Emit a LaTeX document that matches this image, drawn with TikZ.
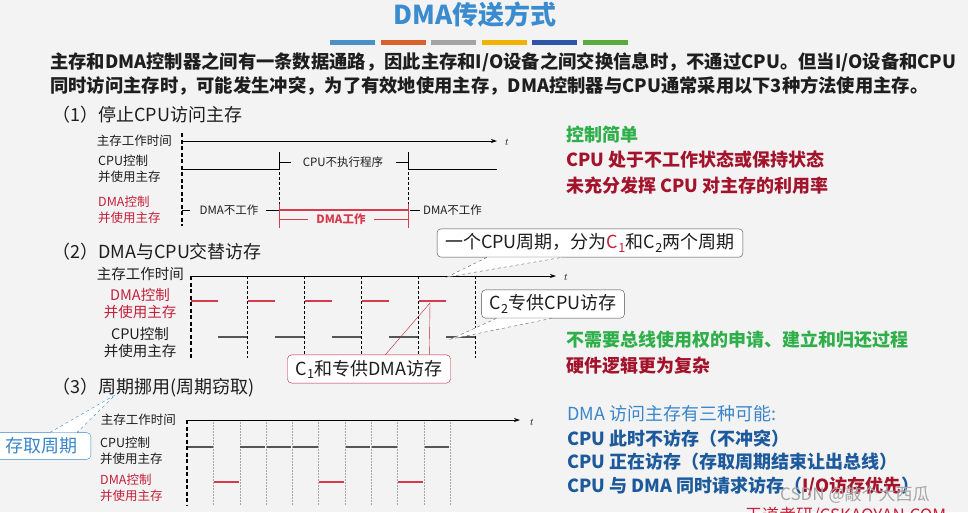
\documentclass[tikz,border=0pt]{standalone}
\usepackage{fontspec}
\setmainfont{Noto Sans CJK SC}
\usetikzlibrary{arrows.meta}

\definecolor{bgcol}{HTML}{F3F3F3}
\definecolor{titleblue}{HTML}{3B8CCF}
\definecolor{txtcol}{HTML}{1E1E1E}
\definecolor{okgreen}{HTML}{2EAF4A}
\definecolor{badred}{HTML}{A3142C}
\definecolor{lblred}{HTML}{C4203A}
\definecolor{dmared}{HTML}{D63A4C}
\definecolor{cpugray}{HTML}{555555}
\definecolor{infoblue}{HTML}{3A86C8}
\definecolor{deepblue}{HTML}{1C5A9C}
\definecolor{barA}{HTML}{4A90C8}
\definecolor{barB}{HTML}{D9622B}
\definecolor{barC}{HTML}{A3A3A3}
\definecolor{barD}{HTML}{F0B400}
\definecolor{barE}{HTML}{2E56A8}
\definecolor{barF}{HTML}{5BAA3C}

\begin{document}
\begin{tikzpicture}[x=1pt,y=-1pt,
    line/.style={anchor=west,inner sep=0pt,text=txtcol,font=\bfseries\fontsize{18.3}{22}\selectfont},
    head/.style={anchor=west,inner sep=0pt,text=txtcol,font=\fontsize{18}{20}\selectfont},
    lbl/.style={inner sep=0pt,text=txtcol,font=\fontsize{12.5}{16.5}\selectfont},
    tiny/.style={inner sep=0pt,text=txtcol,font=\fontsize{11.5}{13}\selectfont},
    note/.style={anchor=west,inner sep=0pt,font=\bfseries\fontsize{18}{20}\selectfont},
    axis/.style={thick,-{Stealth[length=6pt,width=4pt]}},
    zero/.style={very thick,dash pattern=on 4pt off 2.5pt},
    slot/.style={thin,dash pattern=on 3pt off 2pt},
    fine/.style={gray!70,very thin,dash pattern=on 1.5pt off 1.5pt},
    cpuseg/.style={cpugray,line width=2pt},
    dmaseg/.style={dmared,line width=2pt},
    callout/.style={draw=gray!60!black,fill=white,rounded corners=4pt,inner xsep=8pt,inner ysep=5pt,text=txtcol,font=\fontsize{18}{20}\selectfont}]

  \useasboundingbox (0,0) rectangle (968,512);
  \clip (0,0) rectangle (968,512);
  \fill[bgcol] (0,0) rectangle (968,512);

  % TITRE
  \node[font=\bfseries\fontsize{26}{28}\selectfont,text=titleblue] (title) at (475,15) {DMA传送方式};
  \foreach \c [count=\i from 0] in {barA,barB,barC,barD,barE,barF}
    \fill[\c] ({330+50.6*\i},40) rectangle +(45,5);

  % INTRO
  \node[line] (introA) at (50,62) {主存和DMA控制器之间有一条数据通路，因此主存和I/O设备之间交换信息时，不通过CPU。但当I/O设备和CPU};
  \node[line] (introB) at (50,86) {同时访问主存时，可能发生冲突，为了有效地使用主存，DMA控制器与CPU通常采用以下3种方法使用主存。};

  % (1) STOP CPU
  \node[head] (secA) at (52,115) {（1）停止CPU访问主存};
  \node[lbl,anchor=east] (memA) at (172,141) {主存工作时间};
  \draw[axis] (182,141) -- (497,141);
  \node[inner sep=0pt] (tA) at (507,142) {$t$};
  \draw[zero] (182,133) -- (182,226);
  \draw[slot] (279,152) -- (279,226);
  \draw[slot] (408,152) -- (408,226);

  \node[lbl,anchor=west,align=left] (cpuA) at (98,169) {CPU控制\\并使用主存};
  \draw[thick] (182,169) -- (279,169);
  \draw[thick] (408,169) -- (497,169);
  \draw (279,155) -- (279,170) (279,162) -- (291,162);
  \node[tiny] (haltA) at (343,162) {CPU不执行程序};
  \draw (396,162) -- (408,162) (408,155) -- (408,170);

  \node[lbl,anchor=west,align=left,text=lblred] (dmaA) at (98,210) {DMA控制\\并使用主存};
  \draw (182,210) -- (190,210);
  \node[tiny] (idleA) at (229,210) {DMA不工作};
  \draw (266,210) -- (279,210);
  \draw[dmared,line width=1.6pt] (279,210) -- (408,210);
  \draw[dmared] (279,204) -- (279,228) (408,204) -- (408,228);
  \draw[dmared] (279,219) -- (308,219) (374,219) -- (408,219);
  \node[tiny,text=dmared,font=\bfseries\fontsize{11.5}{13}\selectfont] (busyA) at (341,219) {DMA工作};
  \draw (410,210) -- (420,210);
  \node[tiny,anchor=west] (idleB) at (423,210) {DMA不工作};

  \node[note,text=okgreen] (simple) at (566,135) {控制简单};
  \node[note,text=badred] (stall) at (566,160) {CPU 处于不工作状态或保持状态};
  \node[note,text=badred] (waste) at (566,186) {未充分发挥 CPU 对主存的利用率};

  % (2) ALTERNATE
  \node[head] (secB) at (52,252) {（2）DMA与CPU交替访存};
  \node[lbl,anchor=east,font=\fontsize{14.5}{18}\selectfont] (memB) at (184,274) {主存工作时间};
  \draw[axis] (191,276) -- (556,276);
  \node[inner sep=0pt] (tB) at (566,277) {$t$};
  \draw[zero] (191,276) -- (191,358);
  \foreach \k in {1,...,5}
    \draw[slot] ({190+57*\k},276) -- ({190+57*\k},358);
  \foreach \k in {0,...,4} {
    \draw[dmaseg] ({191+57*\k},301) -- ({218+57*\k},301);
    \draw[cpuseg] ({218+57*\k},337) -- ({247+57*\k},337);
  }
  \node[lbl,align=center,text=lblred,font=\fontsize{14.5}{17}\selectfont] (dmaB) at (140,304) {DMA控制\\并使用主存};
  \node[lbl,align=center,font=\fontsize{14.5}{17}\selectfont] (cpuB) at (140,343) {CPU控制\\并使用主存};

  \node[callout] (cycle) at (590,243) {一个CPU周期，分为\textcolor{lblred}{C\textsubscript{1}}和C\textsubscript{2}两个周期};
  \coordinate (cycleTip) at (447,277);
  \fill[white] ([xshift=50pt]cycle.south west) -- (cycleTip) -- ([xshift=125pt]cycle.south west);
  \draw[gray!70!black,dashed] ([xshift=50pt]cycle.south west) -- (cycleTip) -- ([xshift=125pt]cycle.south west);

  \node[callout] (ctwo) at (553,304) {C\textsubscript{2}专供CPU访存};
  \coordinate (ctwoTip) at (451,339);
  \fill[white] ([xshift=15pt]ctwo.south west) -- (ctwoTip) -- ([xshift=70pt]ctwo.south west);
  \draw[gray!70!black,dashed] ([xshift=15pt]ctwo.south west) -- (ctwoTip) -- ([xshift=70pt]ctwo.south west);

  \node[callout,draw=lblred] (cone) at (369,369) {C\textsubscript{1}和专供DMA访存};
  \coordinate (coneTip) at (430,303);
  \draw[lblred] ([xshift=98pt]cone.north west) -- (coneTip) -- ([xshift=142pt]cone.north west);

  \node[note,text=okgreen] (nobus) at (566,340) {不需要总线使用权的申请、建立和归还过程};
  \node[note,text=badred] (hard) at (566,366) {硬件逻辑更为复杂};

  % (3) CYCLE STEALING
  \node[head] (secC) at (52,388) {（3）周期挪用(周期窃取)};
  \node[lbl,anchor=east] (memC) at (176,420) {主存工作时间};
  \draw[axis] (187,420) -- (520,420);
  \node[inner sep=0pt] (tC) at (532,422) {$t$};
  \draw[zero] (187,420) -- (187,506);
  \foreach \k in {1,...,10}
    \draw[fine] ({187+26.3*\k},422) -- ({187+26.3*\k},506);
  \foreach \k in {0,2,3,4,6,7,9}
    \draw[cpuseg] ({187.8+26.3*\k},447) -- ({186.2+26.3*(\k+1)},447);
  \foreach \k in {1,5,8}
    \draw[dmaseg] ({187.8+26.3*\k},482) -- ({186.2+26.3*(\k+1)},482);
  \node[lbl,anchor=west,align=left] (cpuC) at (100,451) {CPU控制\\并使用主存};
  \node[lbl,anchor=west,align=left,text=lblred] (dmaC) at (100,488) {DMA控制\\并使用主存};

  \node[callout,draw=infoblue,text=infoblue,anchor=east,inner xsep=13pt] (cycleC) at (91,446) {存取周期};
  \coordinate (cycleCTip) at (115,395);
  \fill[white] ([xshift=-41pt]cycleC.north east) -- (cycleCTip) -- ([xshift=-14pt]cycleC.north east);
  \draw[infoblue,dashed] ([xshift=-41pt]cycleC.north east) -- (cycleCTip) -- ([xshift=-14pt]cycleC.north east);

  \node[note,text=infoblue,font=\fontsize{18}{20}\selectfont] (three) at (567,414) {DMA 访问主存有三种可能:};
  \node[note,text=deepblue] (noclash) at (567,439) {CPU 此时不访存（不冲突）};
  \node[note,text=deepblue] (yield) at (567,462) {CPU 正在访存（存取周期结束让出总线）};
  \node[note,text=deepblue] (both) at (567,486) {CPU 与 DMA 同时请求访存（\textcolor{badred}{I/O访存优先}）};

  % MARQUES
  \node[anchor=west,inner sep=0pt,text=gray!70,font=\fontsize{17}{20}\selectfont] (mark) at (780,495) {CSDN @敲个大西瓜};
  \node[anchor=west,inner sep=0pt,text=lblred,font=\fontsize{17}{20}\selectfont] (site) at (745,516) {王道考研/CSKAOYAN.COM};
\end{tikzpicture}
\end{document}
